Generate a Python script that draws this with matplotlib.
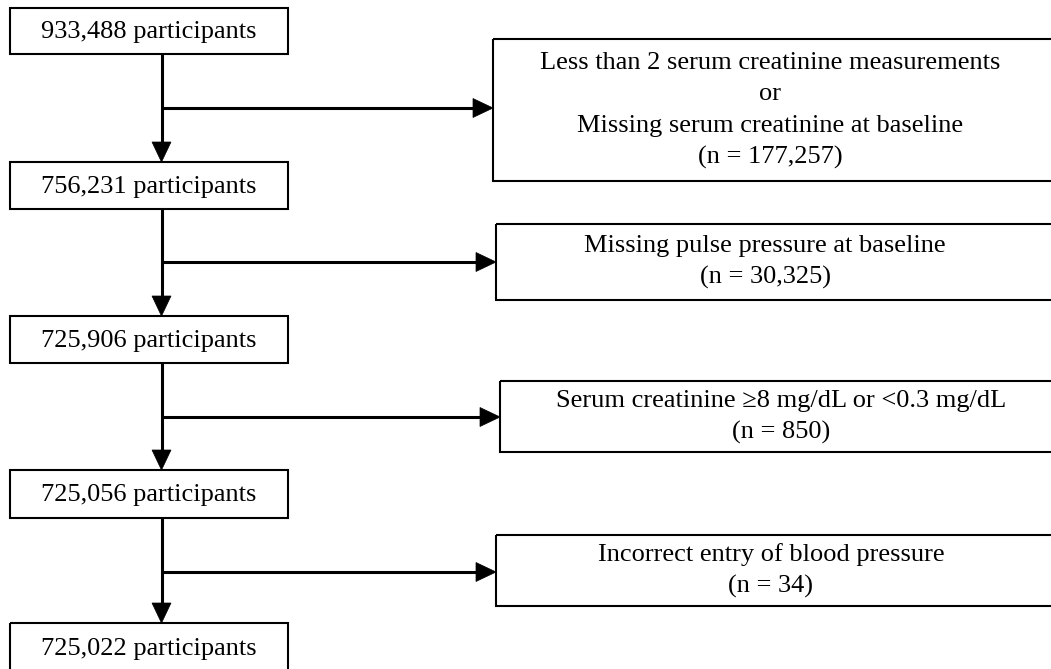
import matplotlib
matplotlib.use("Agg")
import matplotlib.pyplot as plt
from matplotlib.patches import Rectangle, Polygon

# ---- data ----
left_counts = ["933,488", "756,231", "725,906", "725,056", "725,022"]
left_suffix = "participants"
excl_lines = [
    ["Less than 2 serum creatinine measurements", "or",
     "Missing serum creatinine at baseline"],
    ["Missing pulse pressure at baseline"],
    ["Serum creatinine \u22658 mg/dL or <0.3 mg/dL"],
    ["Incorrect entry of blood pressure"],
]
excl_n = ["177,257", "30,325", "850", "34"]

# ---- layout (pixel coordinates) ----
W, H = 1051, 669
left_x0, left_x1 = 10, 288
left_y = [(8, 54), (162, 209), (316, 363), (470, 518), (623, 672)]
trunk_x = 161.5
branch_y = [108, 262, 417, 572]
right_x0 = [493, 496, 500, 496]
right_x1 = 1053
right_y = [(39, 181), (224, 300), (381, 452), (535, 606)]
text_cx = [770, 765, 781, 771]
line_gap = 31.5
fs = 19
head_len, head_hw = 20, 9.5

plt.rcParams['font.family'] = ['Liberation Serif', 'DejaVu Serif']

fig = plt.figure(figsize=(W / 100, H / 100), dpi=100)
ax = fig.add_axes([0, 0, 1, 1])
ax.set_xlim(0, W)
ax.set_ylim(H, 0)
ax.axis('off')

box_lw = 1.5
line_lw = 2.2

# left boxes
for (y0, y1), cnt in zip(left_y, left_counts):
    ax.add_patch(Rectangle((left_x0, y0), left_x1 - left_x0, y1 - y0,
                           fill=False, ec='black', lw=box_lw))
    ax.text((left_x0 + left_x1) / 2, (y0 + y1) / 2 + 1, f"{cnt} {left_suffix}",
            ha='center', va='center', fontsize=fs)

# vertical trunks with arrowheads
for i in range(len(left_y) - 1):
    ytop = left_y[i][1]
    ybot = left_y[i + 1][0]
    ax.plot([trunk_x, trunk_x], [ytop, ybot - head_len + 1], color='black',
            lw=line_lw, solid_capstyle='butt')
    ax.add_patch(Polygon([(trunk_x - head_hw, ybot - head_len),
                          (trunk_x + head_hw, ybot - head_len),
                          (trunk_x, ybot)], closed=True, fc='black', ec='black', lw=0.5))

# branches and exclusion boxes
for i in range(len(excl_lines)):
    by = branch_y[i]
    x0 = right_x0[i]
    ax.plot([trunk_x, x0 - head_len + 1], [by, by], color='black',
            lw=line_lw, solid_capstyle='butt')
    ax.add_patch(Polygon([(x0 - head_len, by - head_hw),
                          (x0 - head_len, by + head_hw),
                          (x0, by)], closed=True, fc='black', ec='black', lw=0.5))
    y0, y1 = right_y[i]
    ax.add_patch(Rectangle((x0, y0), right_x1 - x0, y1 - y0,
                           fill=False, ec='black', lw=box_lw))
    lines = excl_lines[i] + [f"(n = {excl_n[i]})"]
    n = len(lines)
    cy = (y0 + y1) / 2
    for k, t in enumerate(lines):
        yy = cy + (k - (n - 1) / 2) * line_gap
        ax.text(text_cx[i], yy, t, ha='center', va='center', fontsize=fs)

fig.savefig("out.png", dpi=100)
